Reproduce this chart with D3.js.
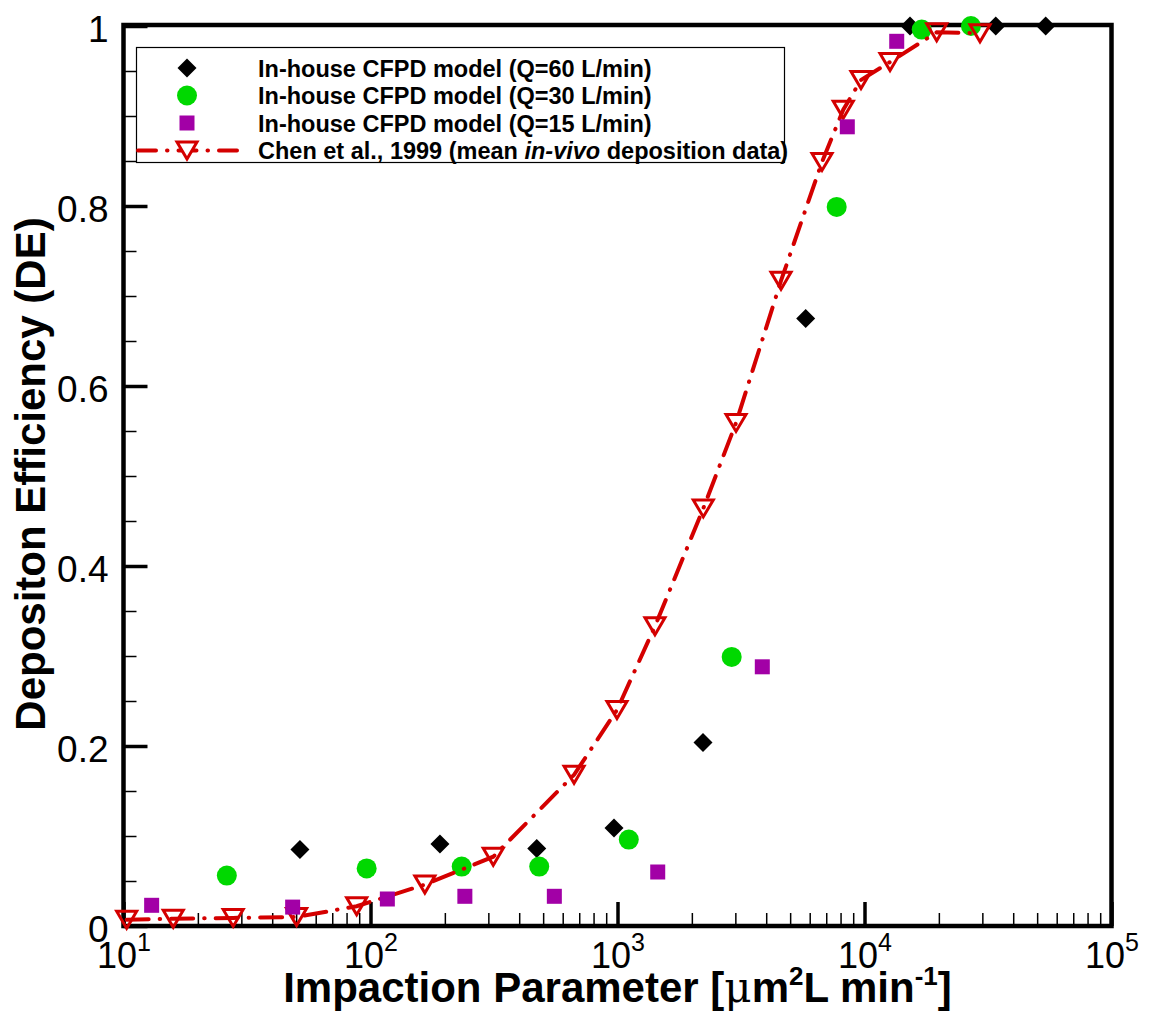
<!DOCTYPE html>
<html>
<head>
<meta charset="utf-8">
<script src="https://cdn.jsdelivr.net/npm/d3@7"></script>
<style>
  html, body { margin: 0; padding: 0; background: #fff; }
  svg { display: block; font-family: "Liberation Sans", Arial, sans-serif; }
</style>
</head>
<body>
<svg id="chart" width="1149" height="1015"></svg>
<script>
// ---------------- data ----------------
const seriesNames = [
  "In-house CFPD model (Q=60 L/min)",
  "In-house CFPD model (Q=30 L/min)",
  "In-house CFPD model (Q=15 L/min)"
];
const q60X = [51.8, 191, 471, 968, 2219, 5781, 15280, 34000, 54150];
const q60Y = [0.085, 0.091, 0.086, 0.109, 0.204, 0.675, 1.0, 1.0, 1.0];
const q30X = [26.2, 96.5, 234, 482, 1111, 2899, 7716, 17045, 26980];
const q30Y = [0.056, 0.064, 0.066, 0.066, 0.096, 0.299, 0.799, 0.996, 1.0];
const q15X = [13.0, 48.4, 117, 241, 555, 1455, 3857, 8519, 13504];
const q15Y = [0.023, 0.021, 0.030, 0.033, 0.033, 0.060, 0.288, 0.888, 0.983];
const chenX = [10.3, 15.9, 27.8, 50.2, 87.9, 166, 314, 667, 995, 1418, 2225, 3019, 4592, 6730, 8204, 9679, 12687, 19600, 29350];
const chenY = [0.007, 0.008, 0.009, 0.010, 0.022, 0.046, 0.077, 0.168, 0.240, 0.333, 0.464, 0.559, 0.717, 0.849, 0.907, 0.940, 0.960, 0.993, 0.992];
const xMajorTicks = [10, 100, 1000, 10000, 100000];
const xTickExponents = ["1", "2", "3", "4", "5"];
const yMajorTicks = [0, 0.2, 0.4, 0.6, 0.8, 1];
const yTickLabels = ["0", "0.2", "0.4", "0.6", "0.8", "1"];

// ---------------- layout ----------------
const svg = d3.select("#chart");
const L = 123.5, R = 1111.5, T = 26, B = 926;
const x = d3.scaleLog().domain([10, 1e5]).range([L, R]);
const y = d3.scaleLinear().domain([0, 1]).range([B, T]);

const RED = "#d40000", GREEN = "#00d800", PURPLE = "#a200a6";

// minor ticks
const xMinor = [];
for (let k = 1; k <= 4; k++) for (let m = 2; m <= 9; m++) xMinor.push(m * Math.pow(10, k));
const yMinor = d3.range(0, 20).map(i => i * 0.05).filter((v, i) => i % 4 !== 0);

// x axis minor
const gxMinor = svg.append("g").attr("transform", `translate(0,${B})`)
  .call(d3.axisBottom(x).tickValues(xMinor).tickSizeInner(-13).tickSizeOuter(0).tickFormat(""));
gxMinor.select(".domain").remove();
gxMinor.selectAll("line").attr("stroke", "#000").attr("stroke-width", 1.5);

// x axis major
const gx = svg.append("g").attr("transform", `translate(0,${B})`)
  .call(d3.axisBottom(x).tickValues(xMajorTicks).tickSizeInner(-24).tickSizeOuter(0).tickFormat(""));
gx.select(".domain").remove();
gx.selectAll("line").attr("stroke", "#000").attr("stroke-width", 3.5);
gx.selectAll(".tick text").remove();
gx.selectAll(".tick").each(function(d, i) {
  const t = d3.select(this).append("text")
    .attr("x", 0).attr("y", 42)
    .attr("text-anchor", "middle")
    .attr("fill", "#000")
    .style("font-family", "'Liberation Sans', Arial, sans-serif")
    .style("font-size", "36px");
  t.append("tspan").text("10");
  t.append("tspan").attr("dy", -17).style("font-size", "25px").text(xTickExponents[i]);
});

// y axis minor
const gyMinor = svg.append("g").attr("transform", `translate(${L},0)`)
  .call(d3.axisLeft(y).tickValues(yMinor).tickSizeInner(-13).tickSizeOuter(0).tickFormat(""));
gyMinor.select(".domain").remove();
gyMinor.selectAll("line").attr("stroke", "#000").attr("stroke-width", 1.5);

// y axis major
const gy = svg.append("g").attr("transform", `translate(${L},0)`)
  .call(d3.axisLeft(y).tickValues(yMajorTicks).tickSizeInner(-24).tickSizeOuter(0).tickPadding(15)
    .tickFormat((d, i) => yTickLabels[i]));
gy.select(".domain").remove();
gy.selectAll("line").attr("stroke", "#000").attr("stroke-width", 3.5);
gy.selectAll("text")
  .attr("dy", "0.42em")
  .attr("fill", "#000")
  .style("font-family", "'Liberation Sans', Arial, sans-serif")
  .style("font-size", "37px");

// frame
svg.append("rect")
  .attr("x", L).attr("y", T - 1)
  .attr("width", R - L).attr("height", B - T + 1)
  .attr("fill", "none").attr("stroke", "#000").attr("stroke-width", 4.5);

// ---------------- marks ----------------
const diamond = "M0,-9.5L9.5,0L0,9.5L-9.5,0Z";
const triDown = "M-10,-8.5L10,-8.5L0,8.5Z";

svg.append("g").selectAll("path")
  .data(q60X.map((v, i) => [v, q60Y[i]]))
  .join("path")
  .attr("d", diamond)
  .attr("transform", d => `translate(${x(d[0])},${y(d[1])})`)
  .attr("fill", "#000");

svg.append("g").selectAll("circle")
  .data(q30X.map((v, i) => [v, q30Y[i]]))
  .join("circle")
  .attr("cx", d => x(d[0])).attr("cy", d => y(d[1])).attr("r", 10)
  .attr("fill", GREEN);

const chenData = chenX.map((v, i) => [v, chenY[i]]);
svg.append("path")
  .datum(chenData)
  .attr("d", d3.line().x(d => x(d[0])).y(d => y(d[1])))
  .attr("fill", "none").attr("stroke", RED).attr("stroke-width", 4)
  .attr("stroke-linecap", "round")
  .attr("stroke-dasharray", "22,11,0.5,11");
svg.append("g").selectAll("path")
  .data(chenData)
  .join("path")
  .attr("d", triDown)
  .attr("transform", d => `translate(${x(d[0])},${y(d[1])})`)
  .attr("fill", "none").attr("stroke", RED).attr("stroke-width", 3)
  .attr("stroke-linejoin", "miter");

svg.append("g").selectAll("rect")
  .data(q15X.map((v, i) => [v, q15Y[i]]))
  .join("rect")
  .attr("x", d => x(d[0]) - 7.5).attr("y", d => y(d[1]) - 7.5)
  .attr("width", 15).attr("height", 15)
  .attr("fill", PURPLE);

// ---------------- legend ----------------
const lg = svg.append("g");
lg.append("rect")
  .attr("x", 136.5).attr("y", 47.5).attr("width", 648).attr("height", 115)
  .attr("fill", "none").attr("stroke", "#000").attr("stroke-width", 1.2);
const rowY = [68, 95.5, 123, 150.5];
const mx = 187, tx = 258;
lg.append("path").attr("d", diamond).attr("transform", `translate(${mx},${rowY[0]})`).attr("fill", "#000");
lg.append("circle").attr("cx", mx).attr("cy", rowY[1]).attr("r", 10).attr("fill", GREEN);
lg.append("rect").attr("x", mx - 7.5).attr("y", rowY[2] - 7.5).attr("width", 15).attr("height", 15).attr("fill", PURPLE);
lg.append("path").attr("d", `M137,${rowY[3]}L240,${rowY[3]}`)
  .attr("stroke", RED).attr("stroke-width", 4).attr("stroke-linecap", "round")
  .attr("stroke-dasharray", "18,11,0.5,11").attr("stroke-dashoffset", -1);
lg.append("path").attr("d", triDown).attr("transform", `translate(${mx},${rowY[3]})`)
  .attr("fill", "#fff").attr("stroke", RED).attr("stroke-width", 3);

const legendTexts = seriesNames;
legendTexts.forEach((s, i) => {
  lg.append("text").attr("x", tx).attr("y", rowY[i] + 8.5)
    .style("font-size", "23.5px").style("font-weight", "bold").text(s);
});
const ct = lg.append("text").attr("x", tx).attr("y", rowY[3] + 8.5)
  .style("font-size", "23.5px").style("font-weight", "bold");
ct.append("tspan").text("Chen et al., 1999 (mean ");
ct.append("tspan").style("font-style", "italic").text("in-vivo");
ct.append("tspan").text(" deposition data)");

// ---------------- axis titles ----------------
const xt = svg.append("text")
  .attr("x", (L + R) / 2).attr("y", 1002)
  .attr("text-anchor", "middle")
  .style("font-size", "42px").style("font-weight", "bold");
xt.append("tspan").text("Impaction Parameter [");
xt.append("tspan").style("font-family", "'DejaVu Serif', 'Liberation Serif', serif").style("font-weight", "normal").text("μ");
xt.append("tspan").text("m");
xt.append("tspan").attr("dy", -17).style("font-size", "26px").text("2");
xt.append("tspan").attr("dy", 17).text("L min");
xt.append("tspan").attr("dy", -17).style("font-size", "26px").text("-1");
xt.append("tspan").attr("dy", 17).text("]");

svg.append("text")
  .attr("transform", "translate(45,474) rotate(-90)")
  .attr("text-anchor", "middle")
  .style("font-size", "42px").style("font-weight", "bold")
  .text("Depositon Efficiency (DE)");
</script>
</body>
</html>
